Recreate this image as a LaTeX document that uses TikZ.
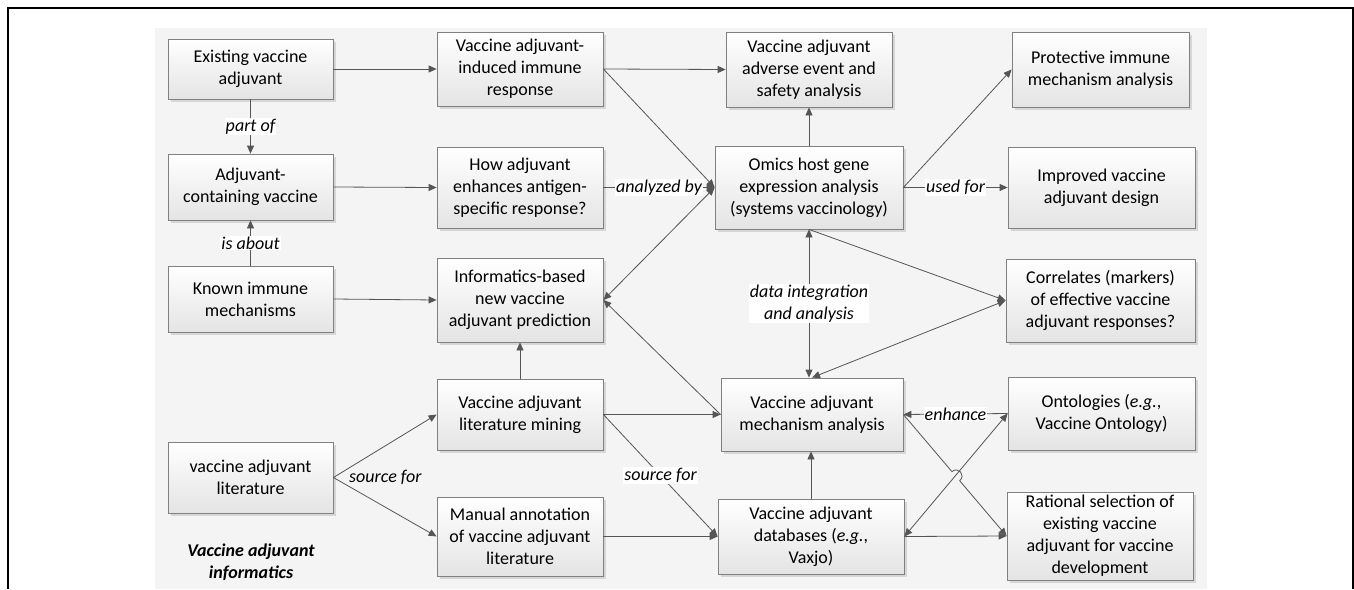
\documentclass[tikz,border=0pt]{standalone}
\usepackage{fontspec}
\setmainfont{Carlito}
\usetikzlibrary{arrows.meta,calc,shadows}
\definecolor{linec}{RGB}{85,85,85}
\definecolor{boxc}{RGB}{128,128,128}
\definecolor{boxbot}{RGB}{228,228,228}
\definecolor{panel}{RGB}{244,244,244}
\begin{document}
\begin{tikzpicture}[x=1pt,y=-1pt,
  box/.style={draw=boxc, line width=0.8pt, top color=white, bottom color=boxbot,
    align=center, inner sep=1pt, font=\fontsize{18}{22}\selectfont,
    drop shadow={shadow xshift=2.5pt, shadow yshift=-2.5pt, fill=black, opacity=0.12}},
  arr/.style={draw=linec, line width=0.8pt, -{Triangle[length=8pt,width=7pt]}},
  darr/.style={draw=linec, line width=0.8pt, {Triangle[length=8pt,width=7pt]}-{Triangle[length=8pt,width=7pt]}},
  lbl/.style={font=\fontsize{18}{22}\selectfont\itshape, fill=white, inner sep=1pt, align=center, text=black}
]
\useasboundingbox (0,0) rectangle (1354,589);
\fill[panel] (155,28) rectangle (1207,589);
\draw[line width=1.5pt] (8,589) -- (8,8) -- (1353,8) -- (1353,589);

% column 1
\node[box, minimum width=165pt, minimum height=60pt] (exist) at (250.5,69) {Existing vaccine\\adjuvant};
\node[box, minimum width=165pt, minimum height=66pt] (adjcont) at (250.5,187) {Adjuvant-\\containing vaccine};
\node[box, minimum width=165pt, minimum height=66pt] (known) at (250.5,299) {Known immune\\mechanisms};
\node[box, minimum width=165pt, minimum height=71pt] (lit) at (250.5,477.5) {vaccine adjuvant\\literature};
\node[font=\fontsize{18}{22}\selectfont\bfseries\itshape, align=center] (title) at (251,562) {Vaccine adjuvant\\informatics};

% column 2
\node[box, minimum width=166pt, minimum height=74pt] (induced) at (520,69) {Vaccine adjuvant-\\induced immune\\response};
\node[box, minimum width=166pt, minimum height=81pt] (how) at (520,187.5) {How adjuvant\\enhances antigen-\\specific response?};
\node[box, minimum width=166pt, minimum height=84pt] (inform) at (520,300) {Informatics-based\\new vaccine\\adjuvant prediction};
\node[box, minimum width=166pt, minimum height=71pt] (mining) at (520,414.5) {Vaccine adjuvant\\literature mining};
\node[box, minimum width=166pt, minimum height=79pt] (manual) at (520,536.5) {Manual annotation\\of vaccine adjuvant\\literature};

% column 3
\node[box, minimum width=166pt, minimum height=75pt] (adverse) at (809,69.5) {Vaccine adjuvant\\adverse event and\\safety analysis};
\node[box, minimum width=188pt, minimum height=83pt] (omics) at (809,187.5) {Omics host gene\\expression analysis\\(systems vaccinology)};
\node[box, minimum width=182pt, minimum height=73pt] (mech) at (812,414.5) {Vaccine adjuvant\\mechanism analysis};
\node[box, minimum width=186pt, minimum height=75pt] (db) at (811,536.5) {Vaccine adjuvant\\databases (\textit{e.g.},\\Vaxjo)};

% column 4
\node[box, minimum width=177pt, minimum height=75pt] (protect) at (1100.5,69.5) {Protective immune\\mechanism analysis};
\node[box, minimum width=187pt, minimum height=81pt] (improved) at (1101.5,187.5) {Improved vaccine\\adjuvant design};
\node[box, minimum width=189pt, minimum height=83pt] (correl) at (1100.5,300.5) {Correlates (markers)\\of effective vaccine\\adjuvant responses?};
\node[box, minimum width=187pt, minimum height=73pt] (onto) at (1101.5,413.5) {Ontologies (\textit{e.g.},\\Vaccine Ontology)};
\node[box, minimum width=186pt, minimum height=88pt] (rational) at (1100,536) {Rational selection of\\existing vaccine\\adjuvant for vaccine\\development};

% connectors, column 1
\draw[arr] (exist.east) -- (induced.west);
\draw[arr] (exist.south) -- node[lbl]{part of} (adjcont.north);
\draw[arr] (known.north) -- node[lbl]{is about} (adjcont.south);
\draw[arr] (adjcont.east) -- (how.west);
\draw[arr] (known.east) -- (inform.west);
\draw[arr] (lit.east) -- (mining.west);
\draw[arr] (lit.east) -- (manual.west);
\node[font=\fontsize{18}{22}\selectfont\itshape] (srcl) at ($(lit.east)+(52,0)$) {source for};

% column 2
\draw[arr] (induced.east) -- (adverse.west);
\draw[arr] (induced.east) -- (omics.west);
\draw[arr] (how.east) -- node[lbl]{analyzed by} (omics.west);
\draw[darr] (omics.west) -- (inform.east);
\draw[arr] (mech.west) -- (inform.east);
\draw[arr] (mining.north) -- (inform.south);
\draw[arr] (mining.east) -- (mech.west);
\draw[arr] (mining.east) -- node[lbl]{source for} (db.west);
\draw[arr] (manual.east) -- (db.west);

% column 3
\draw[arr] (omics.north) -- (adverse.south);
\draw[arr] (omics.east) -- (protect.west);
\draw[arr] (omics.east) -- node[lbl]{used for} (improved.west);
\draw[darr] (omics.south) -- node[lbl]{data integration\\and analysis} (omics.south |- mech.north);
\draw[arr] (omics.south) -- (correl.west);
\draw[darr] (correl.west) -- (mech.north);
\draw[arr] (db.north) -- (db.north |- mech.south);
\draw[arr] (onto.west) -- node[lbl]{enhance} (mech.east);
\draw[darr] (db.east) -- (onto.west);
\draw[arr] (db.east) -- (rational.west);
\coordinate (h1) at ($(mech.east)!0.47!(rational.west)$);
\coordinate (h2) at ($(mech.east)!0.545!(rational.west)$);
\draw[arr] (mech.east) -- (h1) .. controls ($(h1)+(6.5,-5.5)$) and ($(h2)+(6.5,-5.5)$) .. (h2) -- (rational.west);
\end{tikzpicture}
\end{document}
